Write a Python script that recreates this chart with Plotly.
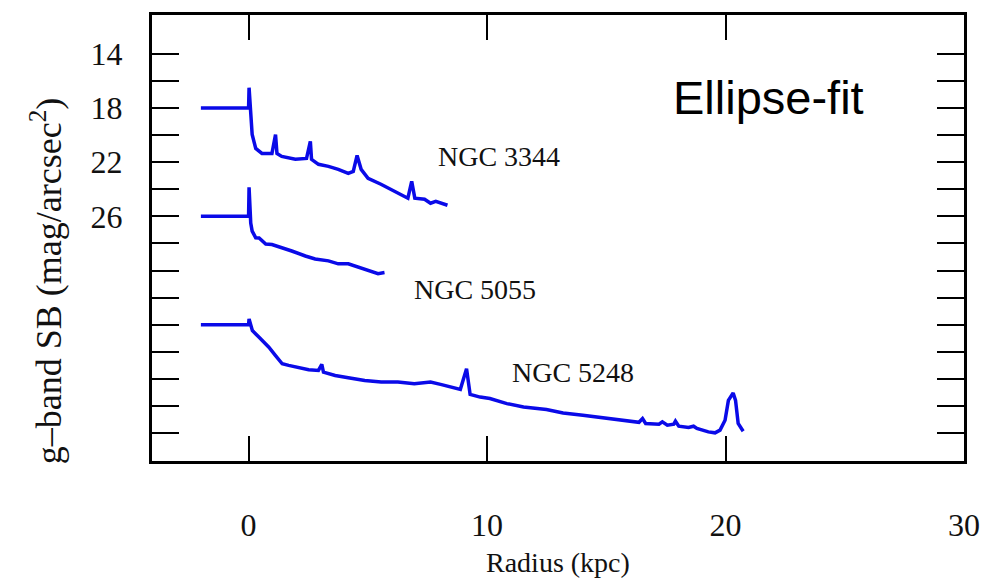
import plotly.graph_objects as go

# ---- data ----
r_3344 = [-2.0, 0.0, 0.02, 0.09, 0.15, 0.30, 0.56, 0.98, 1.13, 1.19, 1.39, 1.96, 2.43, 2.59, 2.64,
          2.93, 3.35, 3.76, 4.18, 4.39, 4.55, 4.72, 5.01, 5.55, 6.13, 6.68, 6.84, 6.97, 7.38,
          7.63, 7.85, 8.05, 8.34]
sb_3344 = [18.0, 18.0, 16.5, 18.3, 19.96, 20.99, 21.35, 21.35, 19.96, 21.35, 21.57, 21.79, 21.72,
           20.47, 21.79, 22.16, 22.31, 22.53, 22.82, 22.68, 21.5, 22.53, 23.19, 23.63, 24.15,
           24.66, 23.41, 24.66, 24.74, 25.03, 24.9, 25.03, 25.18]

r_5055 = [-2.0, 0.0, 0.02, 0.09, 0.15, 0.30, 0.44, 0.72, 0.98, 1.39, 1.81, 2.38, 2.79, 3.35,
          3.76, 4.18, 4.59, 5.01, 5.43, 5.70]
sb_5055 = [26.0, 26.0, 23.85, 26.5, 27.09, 27.58, 27.6, 28.04, 28.08, 28.3, 28.56, 28.93, 29.15,
           29.29, 29.51, 29.51, 29.74, 29.96, 30.23, 30.15]

r_5248 = [-2.0, 0.0, 0.02, 0.16, 0.44, 0.85, 1.13, 1.41, 1.68, 2.10, 2.52, 2.93, 3.07, 3.14,
          3.63, 4.18, 4.87, 5.56, 6.26, 6.95, 7.63, 8.05, 8.88, 9.14, 9.29, 9.71, 10.12, 10.83,
          11.53, 12.49, 13.19, 14.02, 14.85, 15.96, 16.37, 16.52, 16.65, 17.21, 17.35, 17.56,
          17.83, 17.90, 18.04, 18.45, 18.66, 18.80, 19.28, 19.56, 19.77, 19.98, 20.12, 20.32,
          20.42, 20.53, 20.74]
sb_5248 = [34.0, 34.0, 33.58, 34.44, 34.93, 35.67, 36.28, 36.89, 37.01, 37.16, 37.33, 37.38,
           36.94, 37.51, 37.75, 37.92, 38.12, 38.24, 38.24, 38.36, 38.24, 38.41, 38.78, 37.26,
           39.15, 39.35, 39.46, 39.83, 40.08, 40.27, 40.52, 40.69, 40.86, 41.13, 41.21, 40.93,
           41.3, 41.35, 41.18, 41.43, 41.35, 41.13, 41.5, 41.6, 41.5, 41.67, 41.92, 41.99,
           41.79, 41.06, 39.59, 39.05, 39.59, 41.3, 41.87]

x_tickvals = [0, 10, 20, 30]
x_ticktext = ["0", "10", "20", "30"]
y_tickvals = list(range(14, 43, 2))
y_ticktext = ["14", "", "18", "", "22", "", "26"] + [""] * 8

galaxy_names = ["NGC 3344", "NGC 5055", "NGC 5248"]

LINE = "#0a0ae8"
SERIF = "Liberation Serif, Times New Roman, serif"

fig = go.Figure()
for r, sb, name in [(r_3344, sb_3344, galaxy_names[0]),
                    (r_5055, sb_5055, galaxy_names[1]),
                    (r_5248, sb_5248, galaxy_names[2])]:
    fig.add_trace(go.Scatter(x=r, y=sb, mode="lines", name=name,
                             line=dict(color=LINE, width=3.5), showlegend=False))

label_pos = [(10.5, 21.6), (9.5, 31.4), (13.6, 37.5)]
for name, (lx, ly) in zip(galaxy_names, label_pos):
    fig.add_annotation(x=lx, y=ly, xref="x", yref="y", text=name, showarrow=False,
                       font=dict(family=SERIF, size=28, color="#111"))

fig.add_annotation(x=21.8, y=17.2, xref="x", yref="y", text="Ellipse-fit", showarrow=False,
                   font=dict(family="Liberation Sans, Arial, sans-serif", size=47, color="black"))

fig.add_annotation(x=-0.1307, y=0.405, xref="paper", yref="paper",
                   text="g\u2013band SB (mag/arcsec<sup>2</sup>)", textangle=-90,
                   showarrow=False, xanchor="center", yanchor="middle",
                   font=dict(family=SERIF, size=36, color="#111"))
fig.add_annotation(x=0.5, y=-0.228, xref="paper", yref="paper", text="Radius (kpc)",
                   showarrow=False, xanchor="center", yanchor="middle",
                   font=dict(family=SERIF, size=28, color="#111"))

fig.update_xaxes(range=[-4.05, 30], tickvals=x_tickvals, ticktext=x_ticktext,
                 ticks="inside", ticklen=25, tickwidth=2, tickcolor="black",
                 showline=True, linewidth=3, linecolor="black", mirror="ticks",
                 showgrid=False, zeroline=False, ticklabelstandoff=34,
                 tickfont=dict(family=SERIF, size=32, color="#111"))
fig.update_yaxes(range=[44.07, 11.13], tickvals=y_tickvals, ticktext=y_ticktext,
                 ticks="inside", ticklen=27, tickwidth=2, tickcolor="black",
                 showline=True, linewidth=3, linecolor="black", mirror="ticks",
                 showgrid=False, zeroline=False, ticklabelstandoff=20,
                 tickfont=dict(family=SERIF, size=32, color="#111"))

fig.update_layout(width=992, height=579, margin=dict(l=152, r=21, t=13, b=118),
                  plot_bgcolor="white", paper_bgcolor="white")

# remove the browser's default 8px body margin so the figure fills the window exactly
fig.write_html("out.html", config={"displayModeBar": False},
               post_script="document.body.style.margin='0';document.body.style.overflow='hidden';")
